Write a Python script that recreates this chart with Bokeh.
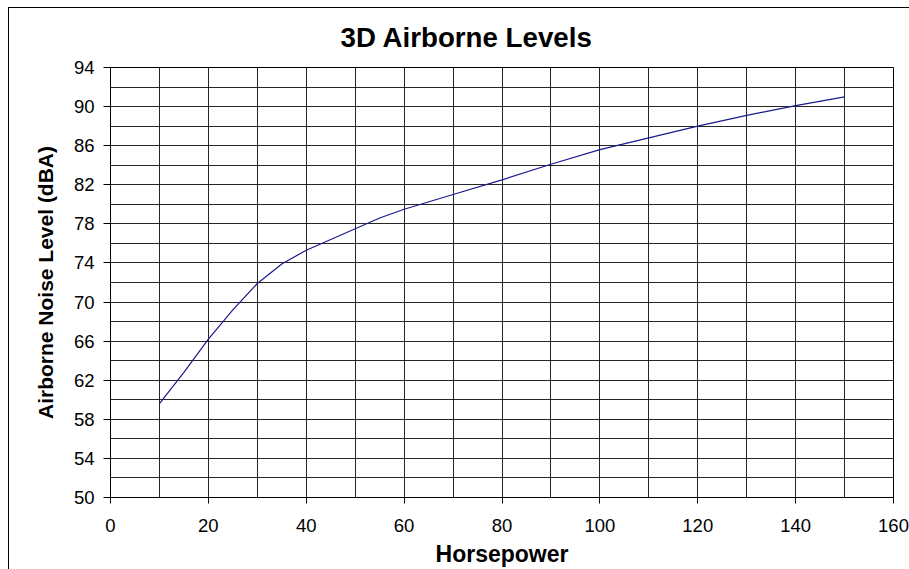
from bokeh.plotting import figure
from bokeh.models import FixedTicker, Range1d
from bokeh.embed import file_html
from bokeh.resources import INLINE

# Data
horsepower = [10, 15, 20, 25, 30, 35, 40, 45, 50, 55, 60, 70, 80, 90, 100, 110, 120, 130, 140, 150]
noise_dba = [59.6, 62.8, 66.2, 69.2, 71.9, 73.9, 75.3, 76.4, 77.5, 78.6, 79.5, 81.0, 82.5, 84.1,
             85.6, 86.8, 88.0, 89.1, 90.1, 91.0]

x_ticks = [0, 20, 40, 60, 80, 100, 120, 140, 160]
x_grid = list(range(0, 161, 10))
y_ticks = [50, 54, 58, 62, 66, 70, 74, 78, 82, 86, 90, 94]
y_grid = list(range(50, 95, 2))

FONT = "Liberation Sans"

p = figure(width=909, height=569, output_backend="svg", toolbar_location=None,
           x_range=Range1d(0, 160), y_range=Range1d(50, 94),
           title="3D Airborne Levels",
           min_border_left=110, min_border_right=16, min_border_top=67, min_border_bottom=70)

# chart-area border (only its top and left edges fall inside the window)
p.styles = {
    "background-color": "white",
    "background-image": "linear-gradient(black, black), linear-gradient(black, black)",
    "background-size": "1px 100%, 100% 1px",
    "background-position": "8px 7px, 8px 7px",
    "background-repeat": "no-repeat",
}
p.border_fill_color = None
p.background_fill_color = "white"

p.title.text_font = FONT
p.title.text_font_size = "27.7px"
p.title.text_font_style = "bold"
p.title.align = "left"
p.title.offset = 230
p.title.standoff = 30
p.title.text_color = "black"

p.line(horsepower, noise_dba, line_color="#1a1a8c", line_width=1.2)

p.xaxis.ticker = FixedTicker(ticks=x_ticks)
p.yaxis.ticker = FixedTicker(ticks=y_ticks)
p.xgrid.ticker = FixedTicker(ticks=x_grid)
p.ygrid.ticker = FixedTicker(ticks=y_grid)

for g in (p.xgrid, p.ygrid):
    g.grid_line_color = "black"
    g.grid_line_width = 1
    g.grid_line_alpha = 0.85

p.outline_line_color = "black"
p.outline_line_width = 1

for ax in (p.xaxis, p.yaxis):
    ax.axis_line_color = "black"
    ax.major_tick_line_color = "black"
    ax.major_tick_in = 0
    ax.minor_tick_line_color = None
    ax.major_label_text_font = FONT
    ax.major_label_text_font_size = "18.5px"
    ax.major_label_text_color = "black"
    ax.axis_label_text_font = FONT
    ax.axis_label_text_font_style = "bold"
    ax.axis_label_text_color = "black"

p.xaxis.major_tick_out = 6
p.yaxis.major_tick_out = 7
p.xaxis.major_label_standoff = 15
p.yaxis.major_label_standoff = 9

p.xaxis.axis_label = "Horsepower"
p.xaxis.axis_label_text_font_size = "23px"
p.xaxis.axis_label_standoff = 6
p.yaxis.axis_label = "Airborne Noise Level (dBA)"
p.yaxis.axis_label_text_font_size = "21px"
p.yaxis.axis_label_standoff = 14

open("out.html", "w").write(file_html(p, INLINE))
